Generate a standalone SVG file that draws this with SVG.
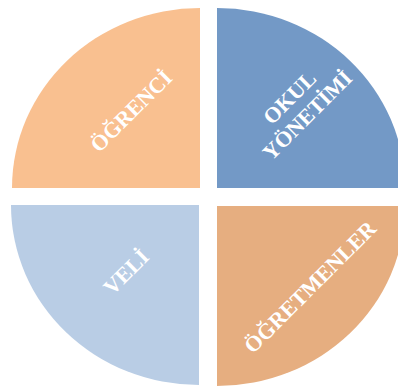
<svg xmlns="http://www.w3.org/2000/svg" width="398" height="387" viewBox="0 0 398 387">
<style>
  .lbl { font-family: "Liberation Serif", "DejaVu Serif", serif; font-weight: bold; font-size: 22px; fill: #ffffff; text-anchor: middle; dominant-baseline: central; }
</style>
<rect width="398" height="387" fill="#ffffff"/>
<g id="ogrenci">
  <path d="M200,188 L12,188 A188,180 0 0 1 200,8 Z" fill="#F9C090"/>
  <text class="lbl" transform="translate(131,111) rotate(-45)">ÖĞRENCİ</text>
</g>
<g id="okul-yonetimi">
  <path d="M217,188 L217,8 A188,180 0 0 1 405,188 Z" fill="#7399C6"/>
  <text class="lbl" transform="translate(298,106) rotate(-45)"><tspan x="0" y="-12.5">OKUL</tspan><tspan x="0" y="12.5">YÖNETİMİ</tspan></text>
</g>
<g id="veli">
  <path d="M199,205 L199,385 A188,180 0 0 1 11,205 Z" fill="#B9CDE5"/>
  <text class="lbl" transform="translate(126,272) rotate(-45)">VELİ</text>
</g>
<g id="ogretmenler">
  <path d="M217,206 L405,206 A188,180 0 0 1 217,386 Z" fill="#E6AE80"/>
  <text class="lbl" transform="translate(310,287) rotate(-45)">ÖĞRETMENLER</text>
</g>
<g id="connectors"></g>
</svg>
